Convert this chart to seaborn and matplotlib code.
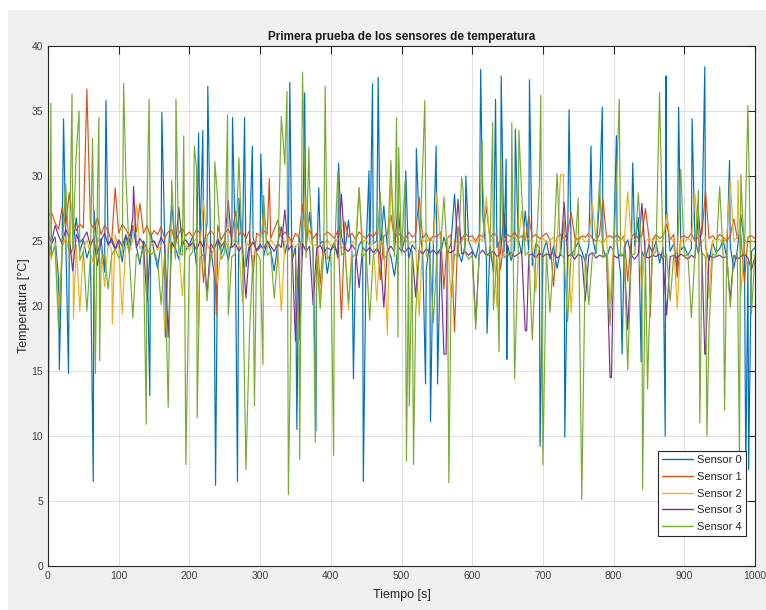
import numpy as np
import pandas as pd
import matplotlib
matplotlib.use("Agg")
import matplotlib.pyplot as plt
from matplotlib.patches import Rectangle
import seaborn as sns

# muestras base cada 5 s (0..1000)
t_grid = np.arange(0, 1001, 5)

sensor0_base = [
    23.6, 24.8, 25.3, 22.1, 24.9, 25.6, 23.9, 24.4, 26.8, 24.2,
    25.1, 23.7, 24.6, 27.4, 24.0, 25.2, 22.6, 24.7, 25.0, 24.3,
    24.9, 23.4, 25.5, 24.1, 26.2, 24.6, 23.2, 25.0, 24.4, 25.8,
    24.2, 22.9, 24.8, 25.3, 24.0, 27.9, 24.5, 23.6, 25.1, 24.3,
    24.7, 25.4, 23.1, 24.9, 24.2, 26.4, 24.6, 22.4, 25.2, 24.0,
    24.8, 23.5, 25.1, 24.4, 28.3, 24.1, 23.0, 24.9, 25.3, 24.2,
    24.5, 23.8, 25.0, 24.3, 22.7, 24.8, 26.1, 24.0, 25.2, 23.4,
    24.6, 25.3, 23.9, 24.4, 27.2, 24.1, 23.3, 24.8, 25.0, 22.5,
    24.3, 24.9, 23.7, 25.4, 24.2, 26.6, 24.0, 23.5, 24.7, 25.1,
    24.4, 23.2, 24.8, 25.0, 24.1, 27.7, 24.5, 23.8, 22.3, 24.6,
    24.2, 25.2, 23.6, 24.7, 24.3, 26.3, 24.0, 22.8, 24.9, 24.4,
    24.6, 23.9, 25.3, 24.1, 24.8, 28.6, 24.2, 23.4, 24.7, 25.0,
    24.3, 23.7, 24.9, 26.9, 24.0, 24.6, 22.6, 24.5, 25.1, 24.2,
    24.7, 23.5, 24.4, 25.2, 24.0, 27.3, 24.3, 23.1, 24.8, 24.5,
    24.1, 25.0, 23.6, 24.6, 22.9, 24.3, 26.5, 24.8, 23.9, 24.4,
    24.9, 24.2, 23.4, 24.7, 25.3, 24.0, 28.1, 24.4, 23.7, 24.6,
    24.3, 24.8, 22.4, 24.5, 25.1, 23.8, 24.6, 26.8, 24.2, 23.6,
    24.7, 24.1, 25.0, 23.3, 24.5, 27.4, 24.2, 24.8, 22.7, 24.3,
    24.6, 23.9, 24.4, 25.2, 24.0, 26.2, 24.5, 23.5, 24.9, 24.1,
    24.4, 25.1, 23.7, 24.6, 22.9, 24.3, 27.0, 24.8, 23.4, 24.2,
    24.5,
]
sensor1_base = [
    26.9, 27.2, 26.4, 25.9, 27.6, 26.1, 28.7, 26.5, 25.8, 26.3,
    26.0, 25.7, 26.4, 25.9, 26.8, 25.5, 26.2, 25.8, 24.9, 26.1,
    25.6, 26.3, 25.9, 25.4, 26.0, 25.7, 27.9, 25.6, 26.2, 25.3,
    25.8, 25.5, 26.1, 25.2, 25.7, 25.9, 24.8, 25.6, 26.0, 25.4,
    25.7, 25.3, 25.9, 25.6, 21.8, 25.4, 25.8, 25.5, 26.2, 25.1,
    25.6, 25.9, 25.3, 27.3, 25.5, 25.7, 25.2, 25.8, 22.4, 25.6,
    25.4, 25.8, 25.5, 25.2, 25.9, 26.6, 25.3, 25.7, 25.4, 24.9,
    25.6, 25.3, 27.8, 25.5, 25.8, 25.2, 25.6, 21.6, 25.4, 25.7,
    25.5, 25.2, 25.8, 25.4, 26.5, 25.3, 25.6, 25.1, 25.7, 25.4,
    25.2, 25.6, 25.3, 25.8, 22.0, 25.4, 25.5, 27.0, 25.2, 25.6,
    25.4, 25.1, 25.7, 25.3, 25.5, 28.4, 25.2, 25.6, 25.0, 25.4,
    25.3, 25.7, 21.3, 25.2, 25.5, 25.4, 26.1, 25.1, 25.6, 25.3,
    25.4, 25.0, 25.5, 25.3, 27.6, 25.2, 25.6, 25.4, 22.8, 25.1,
    25.5, 25.3, 25.7, 25.2, 25.4, 25.0, 26.9, 25.3, 25.5, 25.2,
    25.4, 25.6, 25.1, 21.5, 25.3, 25.5, 25.2, 25.6, 27.2, 25.3,
    25.1, 25.4, 25.3, 25.6, 25.2, 25.0, 25.5, 28.2, 25.3, 25.4,
    25.2, 25.5, 25.1, 25.4, 21.9, 25.3, 25.6, 25.2, 25.4, 27.5,
    25.3, 25.1, 25.5, 25.2, 25.4, 26.3, 25.1, 25.5, 22.2, 25.3,
    25.4, 25.2, 25.6, 25.0, 25.3, 25.5, 28.9, 25.2, 25.4, 25.1,
    25.5, 25.3, 25.0, 25.4, 26.7, 25.2, 25.5, 21.8, 25.3, 25.4,
    25.2,
]
sensor2_base = [
    25.0, 23.6, 24.9, 19.8, 24.5, 25.3, 24.1, 28.6, 24.7, 19.6,
    24.4, 25.1, 24.0, 23.2, 25.2, 24.6, 21.5, 24.8, 24.3, 25.5,
    24.5, 19.4, 24.9, 24.2, 25.1, 27.8, 24.4, 24.8, 23.9, 24.6,
    25.0, 24.3, 24.7, 18.1, 24.9, 24.4, 25.3, 24.6, 20.8, 24.7,
    24.3, 24.9, 25.2, 24.5, 28.1, 24.8, 24.2, 24.9, 21.7, 24.6,
    25.1, 24.4, 24.8, 25.3, 24.6, 20.3, 24.9, 24.5, 25.0, 24.3,
    24.8, 27.2, 24.5, 25.1, 24.7, 24.4, 19.6, 24.9, 25.2, 24.6,
    24.5, 24.9, 24.3, 28.3, 25.0, 24.6, 24.8, 20.5, 24.7, 25.1,
    24.6, 24.9, 25.2, 24.4, 24.8, 19.7, 25.0, 24.7, 29.1, 24.9,
    25.1, 24.6, 24.9, 20.4, 25.0, 24.7, 25.3, 29.8, 24.8, 25.0,
    24.9, 25.2, 24.7, 25.0, 24.8, 19.2, 25.1, 24.9, 25.3, 24.8,
    28.7, 25.0, 24.9, 25.2, 20.7, 25.1, 24.8, 25.0, 25.3, 24.9,
    25.1, 24.8, 25.2, 25.0, 28.4, 24.9, 25.3, 19.9, 25.0, 25.2,
    24.9, 25.1, 25.4, 24.8, 27.3, 25.0, 25.2, 24.9, 21.1, 25.1,
    25.2, 24.9, 25.0, 25.3, 24.8, 30.1, 25.1, 25.0, 19.5, 25.2,
    25.0, 25.3, 24.9, 25.1, 27.9, 25.2, 25.0, 24.8, 25.3, 20.2,
    25.1, 24.9, 25.2, 25.0, 28.8, 25.3, 25.1, 24.9, 21.4, 25.0,
    25.2, 25.0, 25.3, 24.9, 25.1, 27.0, 25.2, 25.0, 19.8, 25.1,
    24.9, 25.2, 25.0, 28.6, 25.1, 24.9, 25.3, 20.6, 25.0, 25.2,
    25.1, 24.9, 25.2, 29.7, 25.0, 25.3, 20.9, 25.1, 24.8, 25.0,
    24.9,
]
sensor3_base = [
    25.6, 24.9, 26.2, 25.4, 24.8, 25.9, 25.3, 22.7, 25.5, 24.9,
    25.2, 25.7, 24.6, 25.3, 23.1, 25.0, 25.6, 24.7, 25.2, 24.4,
    25.1, 24.6, 25.4, 24.9, 26.8, 24.5, 25.2, 24.8, 20.3, 24.9,
    25.0, 24.5, 25.3, 24.7, 17.6, 24.9, 24.4, 27.6, 24.8, 25.1,
    24.6, 24.9, 24.3, 25.0, 24.5, 20.9, 24.8, 24.4, 25.1, 24.6,
    24.9, 28.1, 24.5, 24.8, 24.2, 24.7, 20.6, 24.5, 24.9, 24.3,
    24.7, 24.4, 25.0, 24.6, 24.2, 24.8, 24.5, 27.4, 24.3, 24.7,
    17.3, 24.5, 24.8, 24.2, 24.6, 20.1, 24.4, 24.7, 24.1, 24.5,
    24.3, 24.6, 24.0, 28.6, 24.4, 24.2, 24.7, 24.3, 21.4, 24.5,
    24.2, 24.5, 24.1, 24.4, 24.0, 19.9, 24.3, 24.6, 24.2, 27.8,
    24.4, 24.1, 24.5, 24.2, 20.7, 24.3, 24.0, 24.4, 24.1, 24.3,
    24.0, 24.4, 16.3, 24.2, 24.1, 24.3, 28.2, 24.0, 24.2, 23.9,
    24.2, 18.7, 24.0, 24.3, 23.9, 24.1, 24.2, 23.8, 24.0, 27.1,
    23.9, 24.1, 23.8, 24.0, 24.2, 18.1, 23.9, 24.0, 23.7, 24.1,
    23.8, 24.0, 23.9, 24.1, 23.7, 23.9, 28.0, 23.8, 24.0, 23.6,
    24.0, 23.8, 20.4, 23.9, 24.1, 23.7, 23.9, 23.8, 24.0, 14.5,
    23.9, 23.7, 24.0, 23.8, 18.2, 23.9, 23.6, 24.0, 27.9, 23.8,
    23.7, 23.9, 23.8, 24.0, 23.6, 19.3, 23.8, 23.9, 23.7, 24.0,
    23.8, 23.6, 23.9, 23.7, 27.2, 23.8, 16.3, 23.9, 23.7, 23.8,
    23.9, 23.7, 23.8, 20.5, 23.9, 23.6, 23.8, 24.0, 23.7, 22.8,
    23.8,
]
sensor4_base = [
    5.5, 23.9, 24.6, 18.2, 24.1, 29.4, 23.7, 24.3, 31.8, 23.5,
    24.2, 19.6, 23.8, 24.5, 28.9, 23.6, 24.0, 21.3, 23.9, 24.4,
    23.7, 24.1, 30.2, 23.8, 19.1, 24.0, 23.6, 24.3, 27.4, 23.9,
    24.2, 23.5, 20.1, 24.0, 23.8, 29.7, 23.6, 24.1, 23.9, 18.6,
    23.8, 24.2, 30.6, 23.7, 24.0, 20.4, 23.9, 24.3, 28.2, 23.6,
    24.1, 19.3, 23.8, 24.0, 31.4, 23.7, 24.2, 17.9, 23.9, 24.1,
    23.6, 28.5, 23.9, 24.2, 20.6, 23.8, 24.0, 30.9, 23.7, 24.1,
    23.9, 18.4, 24.2, 23.7, 29.3, 24.0, 23.8, 19.8, 24.1, 23.6,
    24.0, 23.8, 30.4, 23.9, 24.2, 20.2, 23.7, 24.0, 29.1, 23.8,
    24.1, 18.9, 23.9, 24.2, 28.7, 23.6, 24.0, 31.2, 23.8, 17.6,
    24.0, 29.6, 23.7, 24.1, 19.4, 23.9, 30.8, 23.8, 24.0, 18.7,
    23.9, 24.2, 28.4, 23.7, 20.5, 24.0, 23.8, 29.9, 24.1, 23.6,
    23.9, 18.2, 24.1, 29.2, 23.8, 24.0, 19.7, 23.9, 31.5, 23.7,
    24.0, 23.8, 20.3, 24.1, 28.6, 23.9, 24.2, 17.4, 23.8, 29.4,
    23.9, 24.1, 19.5, 23.8, 30.2, 24.0, 23.7, 18.8, 24.1, 23.9,
    28.3, 23.8, 24.0, 20.1, 23.9, 24.2, 29.5, 23.7, 24.0, 18.5,
    23.9, 31.0, 23.8, 24.1, 19.2, 23.9, 24.0, 28.7, 23.8, 24.1,
    17.9, 23.9, 24.2, 29.8, 23.7, 24.0, 20.4, 23.9, 24.1, 30.5,
    23.8, 24.0, 19.1, 23.9, 28.9, 24.1, 23.8, 18.3, 24.0, 23.9,
    29.2, 23.8, 24.1, 19.9, 23.7, 24.0, 30.1, 23.9, 24.0, 19.4,
    24.0,
]

# picos (tiempo [s], temperatura [ºC])
sensor0_spikes = [
    (22, 34.4), (82, 35.8), (161, 34.9), (213, 33.3), (219, 33.5), (226, 36.9),
    (261, 34.5), (278, 34.5), (289, 32.3), (301, 31.7), (342, 37.2), (363, 36.4),
    (383, 29.1), (411, 31.0), (454, 30.4), (459, 37.1), (467, 37.6), (506, 30.4),
    (521, 32.1), (549, 32.3), (591, 30.0), (612, 38.2), (633, 35.9), (641, 37.7),
    (648, 31.3), (661, 33.6), (681, 37.4), (737, 35.1), (768, 32.3), (784, 35.3),
    (804, 33.1), (827, 31.0), (874, 37.7), (892, 35.3), (911, 34.4), (929, 38.4),
    (964, 31.2),
    (16, 15.1), (29, 14.8), (64, 6.5), (144, 13.1), (166, 17.6), (237, 6.2),
    (268, 6.5), (352, 10.5), (379, 10.4), (432, 14.4), (446, 6.5), (534, 14.0),
    (541, 11.1), (551, 14.0), (621, 17.9), (649, 15.9), (696, 9.2), (731, 9.9),
    (812, 16.3), (839, 15.7), (873, 10.0), (987, 7.1), (991, 7.4),
]
sensor1_spikes = [
    (55, 36.7), (95, 29.1), (238, 19.3), (313, 29.8), (415, 19.0), (575, 18.0),
    (852, 19.2),
]
sensor2_spikes = [
    (36, 19.0), (91, 18.6), (213, 18.3), (480, 17.8), (729, 30.1), (976, 29.7),
]
sensor3_spikes = [
    (121, 29.2), (356, 17.4), (563, 16.3), (677, 18.1), (797, 14.5), (929, 16.3),
]
sensor4_spikes = [
    (4, 35.6), (34, 36.3), (44, 35.0), (63, 32.9), (72, 34.5), (107, 37.1),
    (143, 35.9), (181, 35.9), (192, 33.1), (207, 32.3), (236, 31.1), (254, 34.7),
    (330, 34.6), (338, 36.5), (360, 38.0), (369, 32.2), (392, 36.9), (493, 34.5),
    (496, 32.2), (533, 35.8), (587, 29.0), (614, 32.7), (629, 34.1), (656, 34.1),
    (666, 33.5), (697, 36.2), (808, 35.9), (865, 36.4), (990, 35.4),
    (67, 14.8), (73, 15.8), (139, 10.9), (170, 12.2), (195, 7.8), (211, 11.4),
    (280, 7.4), (292, 12.3), (304, 15.5), (340, 5.5), (356, 8.2), (378, 9.5),
    (404, 8.5), (507, 8.1), (511, 12.3), (517, 7.8), (567, 6.4), (638, 16.5),
    (660, 14.4), (700, 7.8), (755, 5.1), (820, 15.1), (841, 5.9), (848, 13.6),
    (922, 11.0), (932, 10.0), (957, 12.0), (978, 8.4),
]

sensor_names = ["Sensor 0", "Sensor 1", "Sensor 2", "Sensor 3", "Sensor 4"]
colors = ["#0072BD", "#D95319", "#EDB120", "#7E2F8E", "#77AC30"]

bases = [sensor0_base, sensor1_base, sensor2_base, sensor3_base, sensor4_base]
spikes = [sensor0_spikes, sensor1_spikes, sensor2_spikes, sensor3_spikes, sensor4_spikes]

frames = []
for name, base, sp in zip(sensor_names, bases, spikes):
    s = pd.Series(base, index=t_grid, dtype=float)
    for t, v in sp:
        s.loc[t] = v
    s = s.sort_index()
    frames.append(pd.DataFrame({"Tiempo": s.index, "Temp": s.values, "Sensor": name}))
df = pd.concat(frames, ignore_index=True)

sns.set_style("white")
plt.rcParams["font.family"] = ["Liberation Sans", "DejaVu Sans"]

fig = plt.figure(figsize=(7.66, 6.10), dpi=100, facecolor="#F0F0F0")
# margen blanco de la captura
fig.add_artist(Rectangle((0, 1 - 10 / 610), 1, 10 / 610, transform=fig.transFigure,
                         facecolor="white", edgecolor="none", zorder=0))
fig.add_artist(Rectangle((0, 0), 8 / 766, 1, transform=fig.transFigure,
                         facecolor="white", edgecolor="none", zorder=0))
ax = fig.add_axes([48 / 766, 44 / 610, 707 / 766, 520 / 610])

sns.lineplot(data=df, x="Tiempo", y="Temp", hue="Sensor", palette=colors,
             estimator=None, sort=False, linewidth=0.85, ax=ax)

ax.set_xlim(0, 1000)
ax.set_ylim(0, 40)
ax.set_xticks(np.arange(0, 1001, 100))
ax.set_yticks(np.arange(0, 41, 5))
ax.grid(True, color="#DADADA", linewidth=0.6)
ax.set_axisbelow(True)
ax.tick_params(direction="in", length=6, width=0.8, colors="#262626",
               labelsize=7.5, top=True, right=True, labelcolor="#404040")
for sp in ax.spines.values():
    sp.set_color("#262626")
    sp.set_linewidth(0.8)

ax.set_title("Primera prueba de los sensores de temperatura", fontsize=8.5,
             fontweight="bold", color="#1a1a1a", pad=4)
ax.set_xlabel("Tiempo [s]", fontsize=9, color="#262626", labelpad=6)
ax.set_ylabel("Temperatura [°C]", fontsize=9, color="#262626", labelpad=1)

leg = ax.legend(loc="lower right", bbox_to_anchor=(0.987, 0.057), fontsize=8,
                frameon=True, fancybox=False, framealpha=1, edgecolor="#262626",
                handlelength=2.8, handletextpad=0.3, borderpad=0.4,
                labelspacing=0.6, borderaxespad=0)
leg.get_frame().set_linewidth(0.8)
for line in leg.get_lines():
    line.set_linewidth(1.0)

fig.savefig("out.png", dpi=100, facecolor=fig.get_facecolor())
